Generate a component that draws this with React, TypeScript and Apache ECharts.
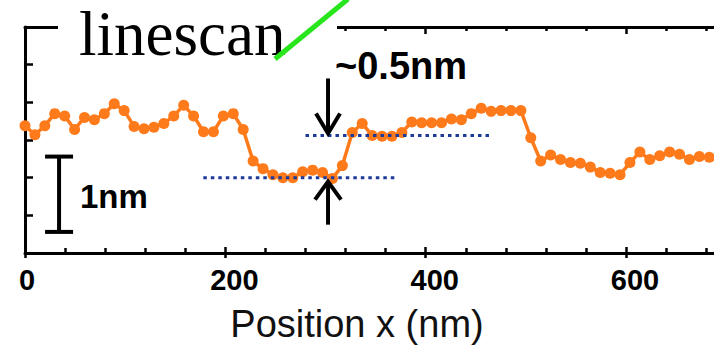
import React, { useEffect, useRef } from "react";
import * as echarts from "echarts";

// Line-scan profile: position along the scan (nm) and surface height (nm)
const positionsNm = [
  0, 9.9, 19.8, 29.7, 39.6, 49.5, 59.4, 69.3, 79.2, 89.1,
  99, 108.9, 118.8, 128.7, 138.6, 148.5, 158.4, 168.3, 178.2, 188.1,
  198, 207.9, 217.8, 227.7, 237.6, 247.5, 257.4, 267.3, 277.2, 287.1,
  297, 306.9, 316.8, 326.7, 336.6, 346.5, 356.4, 366.3, 376.2, 386.1,
  396, 405.9, 415.8, 425.7, 435.6, 445.5, 455.4, 465.3, 475.2, 485.1,
  495, 504.9, 514.8, 524.7, 534.6, 544.5, 554.4, 564.3, 574.2, 584.1,
  594, 603.9, 613.8, 623.7, 633.6, 643.5, 653.4, 663.3, 673.2, 683.1,
];
const heightNm = [
  1.69, 1.57, 1.69, 1.85, 1.82, 1.64, 1.8, 1.77, 1.85, 1.98,
  1.89, 1.68, 1.65, 1.67, 1.72, 1.82, 1.96, 1.82, 1.61, 1.61,
  1.82, 1.85, 1.64, 1.22, 1.12, 1.04, 1.0, 1.0, 1.08, 1.1,
  1.07, 0.99, 1.16, 1.6, 1.72, 1.56, 1.55, 1.55, 1.6, 1.74,
  1.73, 1.73, 1.73, 1.78, 1.77, 1.85, 1.92, 1.88, 1.89, 1.89,
  1.89, 1.53, 1.22, 1.3, 1.24, 1.2, 1.19, 1.14, 1.07, 1.06,
  1.04, 1.2, 1.34, 1.24, 1.29, 1.34, 1.31, 1.24, 1.28, 1.27,
];

// Terrace guide levels [position nm, height nm]
const lowerTerrace = [
  [178, 1.0],
  [371, 1.0],
];
const upperTerrace = [
  [280, 1.56],
  [467, 1.56],
];

// Step annotation and scale bar (data units)
const stepArrowX = 302.5;
const scaleBarX = 34;
const scaleBarBottom = 0.28;
const scaleBarLength = 1;

const xLabelValues = [0, 200, 400, 600];

const SANS = '"Liberation Sans", Arial, Helvetica, sans-serif';
const SERIF = '"Liberation Serif", "Times New Roman", serif';
const ORANGE = "#ff7a1a";
const NAVY = "#1c3a98";

export default function App() {
  const ref = useRef<HTMLDivElement>(null);

  useEffect(() => {
    if (!ref.current) return;
    const chart = echarts.init(ref.current, undefined, { renderer: "svg" });

    const frameLine = { show: true, lineStyle: { color: "#000", width: 3 } };

    chart.setOption({
      animation: false,
      backgroundColor: "#fff",
      grid: {
        left: 25,
        top: 27,
        width: 801.4,
        height: 226,
        containLabel: false,
        outerBoundsMode: "none",
      },
      xAxis: [
        {
          type: "value",
          position: "bottom",
          min: 0,
          max: 800,
          interval: 200,
          axisLine: frameLine,
          axisTick: { show: true, inside: true, length: 6, lineStyle: { color: "#000", width: 2.5 } },
          minorTick: { show: true, splitNumber: 5, length: 5, lineStyle: { color: "#000", width: 2.5 } },
          splitLine: { show: false },
          axisLabel: {
            show: true,
            margin: 12,
            showMaxLabel: false,
            formatter: (v: number) =>
              xLabelValues.includes(v) ? (v === 0 ? `{z|${v}}` : `{n|${v}}`) : "",
            rich: {
              z: { fontFamily: SANS, fontWeight: "bold", fontSize: 29, color: "#000", padding: [0, 0, 0, 4] },
              n: { fontFamily: SANS, fontWeight: "bold", fontSize: 29, color: "#000", padding: [0, 0, 0, 18] },
            },
          },
        },
        {
          type: "value",
          position: "bottom",
          min: 0,
          max: 800,
          interval: 200,
          axisLine: { show: false },
          axisTick: { show: true, inside: false, length: 5, lineStyle: { color: "#000", width: 2.5 } },
          axisLabel: { show: false },
          splitLine: { show: false },
        },
        {
          type: "value",
          position: "top",
          min: 0,
          max: 800,
          interval: 200,
          axisLine: frameLine,
          axisTick: { show: true, inside: true, length: 7, lineStyle: { color: "#000", width: 2.5 } },
          minorTick: { show: true, splitNumber: 5, length: 4, lineStyle: { color: "#000", width: 2.5 } },
          axisLabel: { show: false },
          splitLine: { show: false },
        },
      ],
      yAxis: {
        type: "value",
        min: 0,
        max: 3,
        interval: 0.5,
        axisLine: frameLine,
        axisTick: { show: true, inside: true, length: 8, lineStyle: { color: "#000", width: 2.5 } },
        axisLabel: { show: false },
        splitLine: { show: false },
      },
      series: [
        {
          type: "line",
          xAxisIndex: 0,
          data: positionsNm.map((x, i) => [x, heightNm[i]]),
          symbol: "circle",
          symbolSize: 11,
          showSymbol: true,
          showAllSymbol: true,
          itemStyle: { color: ORANGE },
          lineStyle: { color: ORANGE, width: 3.5 },
          z: 2,
          silent: true,
        },
        {
          type: "line",
          xAxisIndex: 0,
          data: lowerTerrace,
          symbol: "none",
          lineStyle: { color: NAVY, width: 3, type: [3.5, 4] },
          z: 3,
          silent: true,
        },
        {
          type: "line",
          xAxisIndex: 0,
          data: upperTerrace,
          symbol: "none",
          lineStyle: { color: NAVY, width: 3, type: [3.5, 4] },
          z: 3,
          silent: true,
        },
      ],
    });

    const px = (x: number, y: number) => chart.convertToPixel({ gridIndex: 0 }, [x, y]) as number[];

    const topArrow = px(stepArrowX, upperTerrace[0][1]);
    const bottomArrow = px(stepArrowX, lowerTerrace[0][1]);
    const barTop = px(scaleBarX, scaleBarBottom + scaleBarLength);
    const barBottom = px(scaleBarX, scaleBarBottom);

    const ink = { stroke: "#000", lineWidth: 4, fill: null };
    const downTipY = topArrow[1] - 2;
    const upTipY = bottomArrow[1] + 4;
    const ax = topArrow[0];

    chart.setOption({
      graphic: [
        // title box over the top frame
        { type: "rect", z: 100, shape: { x: 58, y: 0, width: 279, height: 50 }, style: { fill: "#fff" } },
        {
          type: "text",
          z: 101,
          x: 79,
          y: 34,
          style: { text: "linescan", fontFamily: SERIF, fontSize: 63, fill: "#000", verticalAlign: "middle", align: "left" },
        },
        { type: "line", z: 102, shape: { x1: 275, y1: 59, x2: 348, y2: -1 }, style: { stroke: "#27e61c", lineWidth: 5 } },
        // step arrows
        { type: "line", z: 103, shape: { x1: ax, y1: downTipY - 55, x2: ax, y2: downTipY - 2 }, style: ink },
        {
          type: "polyline",
          z: 103,
          shape: { points: [[ax - 12, downTipY - 20], [ax, downTipY], [ax + 12, downTipY - 20]] },
          style: ink,
        },
        { type: "line", z: 103, shape: { x1: ax, y1: upTipY + 2, x2: ax, y2: upTipY + 43 }, style: ink },
        {
          type: "polyline",
          z: 103,
          shape: { points: [[ax - 13, upTipY + 18], [ax, upTipY], [ax + 13, upTipY + 18]] },
          style: ink,
        },
        {
          type: "text",
          z: 103,
          x: 335,
          y: 66,
          style: { text: "~0.5nm", fontFamily: SANS, fontWeight: "bold", fontSize: 38, fill: "#000", verticalAlign: "middle", align: "left" },
        },
        // 1 nm scale bar
        { type: "line", z: 103, shape: { x1: barTop[0], y1: barTop[1], x2: barBottom[0], y2: barBottom[1] }, style: ink },
        { type: "line", z: 103, shape: { x1: barTop[0] - 14, y1: barTop[1], x2: barTop[0] + 14, y2: barTop[1] }, style: ink },
        { type: "line", z: 103, shape: { x1: barBottom[0] - 14, y1: barBottom[1], x2: barBottom[0] + 14, y2: barBottom[1] }, style: ink },
        {
          type: "text",
          z: 103,
          x: 80,
          y: 196.5,
          style: { text: "1nm", fontFamily: SANS, fontWeight: "bold", fontSize: 33, fill: "#000", verticalAlign: "middle", align: "left" },
        },
        // axis title
        {
          type: "text",
          z: 103,
          x: 357,
          y: 323.5,
          style: { text: "Position x (nm)", fontFamily: SANS, fontSize: 38, fill: "#111", verticalAlign: "middle", align: "center" },
        },
      ],
    });

    return () => chart.dispose();
  }, []);

  return (
    <div
      ref={ref}
      style={{ position: "fixed", left: 0, top: 0, width: 714, height: 345, background: "#fff" }}
    />
  );
}
